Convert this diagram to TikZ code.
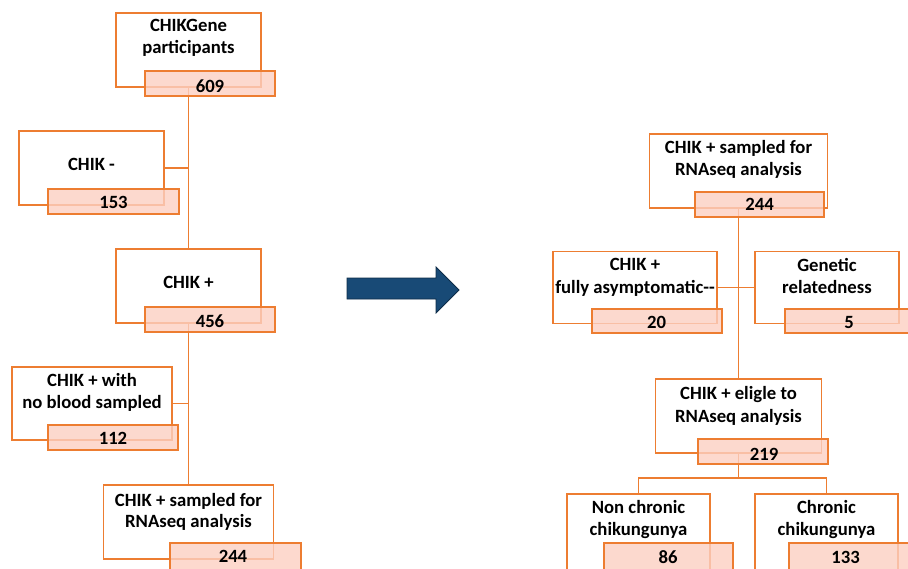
\documentclass[tikz,border=0pt]{standalone}
\usepackage{fontspec}
\setmainfont{Carlito}
\definecolor{ora}{RGB}{237,125,49}
\definecolor{pnk}{RGB}{252,208,194}
\definecolor{arr}{RGB}{24,74,118}
\definecolor{arrb}{RGB}{14,44,72}
\tikzset{
  wbox/.style={rectangle, draw=ora, line width=1.9pt, fill=white, inner sep=0pt},
  pbox/.style={rectangle, draw=ora, line width=1.9pt, fill=pnk, fill opacity=0.8, draw opacity=1, inner sep=0pt},
  lbl/.style={font=\fontsize{18.7}{22}\selectfont\bfseries, inner sep=0pt, anchor=base, text=black},
  conn/.style={draw=ora, line width=1.9pt},
}
\begin{document}
\begin{tikzpicture}[x=1pt,y=-1pt]
\useasboundingbox (0,0) rectangle (908,568);
\clip (0,0) rectangle (908,568);
% white boxes
\node[wbox, minimum width=145pt, minimum height=74pt] (b1) at (188.5,50) {};
\node[wbox, minimum width=145pt, minimum height=74pt] (b2) at (91.5,168) {};
\node[wbox, minimum width=145pt, minimum height=74pt] (b3) at (188.5,286) {};
\node[wbox, minimum width=160pt, minimum height=73pt] (b4) at (92,403.5) {};
\node[wbox, minimum width=170pt, minimum height=74pt] (b5) at (188.5,522) {};
\node[wbox, minimum width=178pt, minimum height=74pt] (b6) at (738.5,171) {};
\node[wbox, minimum width=164pt, minimum height=72pt] (b7) at (635,287.5) {};
\node[wbox, minimum width=144pt, minimum height=72pt] (b8) at (827,287.5) {};
\node[wbox, minimum width=166pt, minimum height=74pt] (b9) at (738.5,416) {};
\node[wbox, minimum width=143pt, minimum height=80pt] (b10) at (638.5,534) {};
\node[wbox, minimum width=143pt, minimum height=80pt] (b11) at (826.5,534) {};
% connectors
\draw[conn] (b1.south) -- (b3.north);
\draw[conn] (b2.east) -- (b2.east -| b1);
\draw[conn] (b3.south) -- (b5.north);
\draw[conn] (b4.east) -- (b4.east -| b3);
\draw[conn] (b6.south) -- (b9.north);
\draw[conn] (b7.east) -- (b8.west);
\draw[conn] (b9.south) -- ++(0,24) coordinate (j);
\draw[conn] (b10.north) |- (j) -| (b11.north);
% pink boxes
\node[pbox, minimum width=130pt, minimum height=25pt] (p1) at (210,83.5) {};
\node[pbox, minimum width=131pt, minimum height=25pt] (p2) at (113.5,201.5) {};
\node[pbox, minimum width=130pt, minimum height=25pt] (p3) at (210,319.5) {};
\node[pbox, minimum width=130pt, minimum height=25pt] (p4) at (113,437.5) {};
\node[pbox, minimum width=131pt, minimum height=27pt] (p5) at (235.5,556.5) {};
\node[pbox, minimum width=129pt, minimum height=25pt] (p6) at (759.5,204.5) {};
\node[pbox, minimum width=130pt, minimum height=24pt] (p7) at (657,321) {};
\node[pbox, minimum width=130pt, minimum height=24pt] (p8) at (850,321) {};
\node[pbox, minimum width=130pt, minimum height=25pt] (p9) at (763,451.5) {};
\node[pbox, minimum width=129pt, minimum height=27pt] (p10) at (668.5,556.5) {};
\node[pbox, minimum width=130pt, minimum height=27pt] (p11) at (854,556.5) {};
% arrow
\draw[fill=arr, draw=arrb, line width=0.8pt] (347,278) -- (436,278) -- (436,267) -- (459,290) -- (436,313) -- (436,299) -- (347,299) -- cycle;
% texts
\node[lbl] (t1a) at (188.5,31.7) {CHIKGene};
\node[lbl] (t1b) at (188.5,53.3) {participants};
\node[lbl] (n1) at (210,92) {609};
\node[lbl] (t2) at (91.5,170) {CHIK -};
\node[lbl] (n2) at (113.5,208) {153};
\node[lbl] (t3) at (188.5,288) {CHIK +};
\node[lbl] (n3) at (210,327) {456};
\node[lbl] (t4a) at (92,386) {CHIK + with};
\node[lbl] (t4b) at (92,408) {no blood sampled};
\node[lbl] (n4) at (113,444) {112};
\node[lbl] (t5a) at (188.5,506) {CHIK + sampled for};
\node[lbl] (t5b) at (188.5,527) {RNAseq analysis};
\node[lbl] (n5) at (233,562) {244};
\node[lbl] (t6a) at (738.5,153) {CHIK + sampled for};
\node[lbl] (t6b) at (738.5,175) {RNAseq analysis};
\node[lbl] (n6) at (759.5,210) {244};
\node[lbl] (t7a) at (635,270) {CHIK +};
\node[lbl] (t7b) at (635,293) {fully asymptomatic-{}-};
\node[lbl] (n7) at (656.5,328) {20};
\node[lbl] (t8a) at (827,271) {Genetic};
\node[lbl] (t8b) at (827,293) {relatedness};
\node[lbl] (n8) at (849,328) {5};
\node[lbl] (t9a) at (738.5,399) {CHIK + eligle to};
\node[lbl] (t9b) at (738.5,422) {RNAseq analysis};
\node[lbl] (n9) at (764,460) {219};
\node[lbl] (t10a) at (638.5,513) {Non chronic};
\node[lbl] (t10b) at (638.5,535) {chikungunya};
\node[lbl] (n10) at (668,563) {86};
\node[lbl] (t11a) at (826.5,513) {Chronic};
\node[lbl] (t11b) at (826.5,535) {chikungunya};
\node[lbl] (n11) at (845.5,563) {133};
\end{tikzpicture}
\end{document}
